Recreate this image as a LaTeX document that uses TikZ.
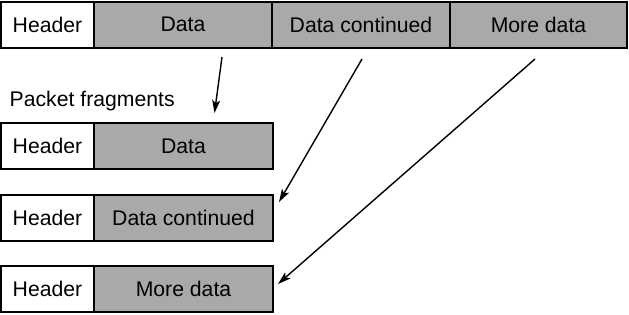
\documentclass[tikz,border=0pt]{standalone}
\usepackage{fontspec}
\setmainfont{Liberation Sans}
\usetikzlibrary{arrows.meta}
\definecolor{boxgray}{RGB}{169,169,169}
\begin{document}
\begin{tikzpicture}[x=1pt,y=-1pt,
  cell/.style={draw=black,line width=2pt,minimum height=46pt,inner sep=0pt,font=\fontsize{21.2}{25}\selectfont},
  hdr/.style={cell,fill=white,minimum width=93pt},
  dat/.style={cell,fill=boxgray,minimum width=178pt},
  conn/.style={line width=1.4pt,-{Stealth[length=13pt,width=8pt,inset=3pt]}}]
\useasboundingbox (0,0) rectangle (629,314);
% top packet
\node[hdr] (th) at (47.5,24.5) {Header};
\node[dat] (td1) at (183,24.5) {Data};
\node[dat] (td2) at (361,24.5) {Data continued};
\node[dat,minimum width=177pt] (td3) at (538.5,24.5) {More data};
% label
\node[anchor=west,inner sep=0pt,font=\fontsize{21.2}{25}\selectfont] (lbl) at (9.5,101) {Packet fragments};
% fragments
\node[hdr] (h1) at (47.5,146) {Header};
\node[dat,minimum width=179pt] (d1) at (183.5,146) {Data};
\node[hdr] (h2) at (47.5,218) {Header};
\node[dat,minimum width=179pt] (d2) at (183.5,218) {Data continued};
\node[hdr] (h3) at (47.5,288.5) {Header};
\node[dat,minimum width=179pt] (d3) at (183.5,288.5) {More data};
% arrows
\coordinate (s1) at (222,57);
\coordinate (e1) at (214.5,113);
\coordinate (s2) at (362,59);
\coordinate (e2) at (279,202);
\coordinate (s3) at (535,59);
\coordinate (e3) at (278,284);
\draw[conn] (s1) -- (e1);
\draw[conn] (s2) -- (e2);
\draw[conn] (s3) -- (e3);
\end{tikzpicture}
\end{document}
